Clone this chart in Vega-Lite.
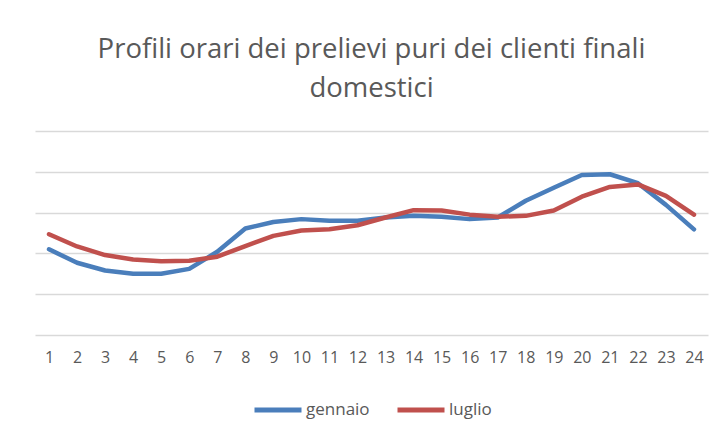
{
  "$schema": "https://vega.github.io/schema/vega-lite/v6.json",
  "width": 673,
  "height": 204,
  "autosize": {"type": "none"},
  "padding": {"left": 35, "top": 131, "right": 19, "bottom": 100},
  "title": {
    "text": ["Profili orari dei prelievi puri dei clienti finali", "domestici"],
    "font": "Open Sans",
    "fontSize": 27.5,
    "fontWeight": "normal",
    "color": "#595959",
    "lineHeight": 39,
    "anchor": "middle",
    "offset": 29
  },
  "config": {
    "view": {"stroke": null},
    "font": "Open Sans",
    "legend": {"layout": {"bottom": {"anchor": "middle"}}}
  },
  "data": {
    "values": [
      {"ora": 1, "mese": "gennaio", "v": 2.10}, {"ora": 2, "mese": "gennaio", "v": 1.77},
      {"ora": 3, "mese": "gennaio", "v": 1.58}, {"ora": 4, "mese": "gennaio", "v": 1.50},
      {"ora": 5, "mese": "gennaio", "v": 1.50}, {"ora": 6, "mese": "gennaio", "v": 1.62},
      {"ora": 7, "mese": "gennaio", "v": 2.04}, {"ora": 8, "mese": "gennaio", "v": 2.61},
      {"ora": 9, "mese": "gennaio", "v": 2.77}, {"ora": 10, "mese": "gennaio", "v": 2.84},
      {"ora": 11, "mese": "gennaio", "v": 2.80}, {"ora": 12, "mese": "gennaio", "v": 2.80},
      {"ora": 13, "mese": "gennaio", "v": 2.88}, {"ora": 14, "mese": "gennaio", "v": 2.92},
      {"ora": 15, "mese": "gennaio", "v": 2.90}, {"ora": 16, "mese": "gennaio", "v": 2.84},
      {"ora": 17, "mese": "gennaio", "v": 2.88}, {"ora": 18, "mese": "gennaio", "v": 3.29},
      {"ora": 19, "mese": "gennaio", "v": 3.61}, {"ora": 20, "mese": "gennaio", "v": 3.92},
      {"ora": 21, "mese": "gennaio", "v": 3.94}, {"ora": 22, "mese": "gennaio", "v": 3.72},
      {"ora": 23, "mese": "gennaio", "v": 3.19}, {"ora": 24, "mese": "gennaio", "v": 2.59},
      {"ora": 1, "mese": "luglio", "v": 2.47}, {"ora": 2, "mese": "luglio", "v": 2.17},
      {"ora": 3, "mese": "luglio", "v": 1.96}, {"ora": 4, "mese": "luglio", "v": 1.85},
      {"ora": 5, "mese": "luglio", "v": 1.81}, {"ora": 6, "mese": "luglio", "v": 1.82},
      {"ora": 7, "mese": "luglio", "v": 1.92}, {"ora": 8, "mese": "luglio", "v": 2.18},
      {"ora": 9, "mese": "luglio", "v": 2.43}, {"ora": 10, "mese": "luglio", "v": 2.56},
      {"ora": 11, "mese": "luglio", "v": 2.59}, {"ora": 12, "mese": "luglio", "v": 2.69},
      {"ora": 13, "mese": "luglio", "v": 2.88}, {"ora": 14, "mese": "luglio", "v": 3.06},
      {"ora": 15, "mese": "luglio", "v": 3.05}, {"ora": 16, "mese": "luglio", "v": 2.95},
      {"ora": 17, "mese": "luglio", "v": 2.90}, {"ora": 18, "mese": "luglio", "v": 2.92},
      {"ora": 19, "mese": "luglio", "v": 3.05}, {"ora": 20, "mese": "luglio", "v": 3.39},
      {"ora": 21, "mese": "luglio", "v": 3.63}, {"ora": 22, "mese": "luglio", "v": 3.69},
      {"ora": 23, "mese": "luglio", "v": 3.41}, {"ora": 24, "mese": "luglio", "v": 2.95}
    ]
  },
  "mark": {"type": "line", "strokeWidth": 4.5, "strokeCap": "round", "strokeJoin": "round"},
  "encoding": {
    "x": {
      "field": "ora",
      "type": "ordinal",
      "scale": {"type": "point", "padding": 0.5},
      "axis": {
        "title": null,
        "labelAngle": 0,
        "domain": false,
        "ticks": false,
        "labelFontSize": 16,
        "labelColor": "#595959",
        "labelPadding": 14,
        "grid": false
      }
    },
    "y": {
      "field": "v",
      "type": "quantitative",
      "scale": {"domain": [0, 5], "nice": false},
      "axis": {
        "title": null,
        "labels": false,
        "ticks": false,
        "domain": false,
        "values": [0, 1, 2, 3, 4, 5],
        "gridColor": "#d9d9d9",
        "gridWidth": 1.5,
        "gridOpacity": 1
      }
    },
    "color": {
      "field": "mese",
      "type": "nominal",
      "scale": {"domain": ["gennaio", "luglio"], "range": ["#4a7ebb", "#c0504d"]},
      "legend": {
        "title": null,
        "orient": "bottom",
        "direction": "horizontal",
        "symbolType": "stroke",
        "symbolSize": 2209,
        "symbolStrokeWidth": 5,
        "labelFontSize": 17,
        "labelColor": "#595959",
        "labelOffset": 2,
        "columnPadding": 17,
        "offset": 19
      }
    }
  }
}
